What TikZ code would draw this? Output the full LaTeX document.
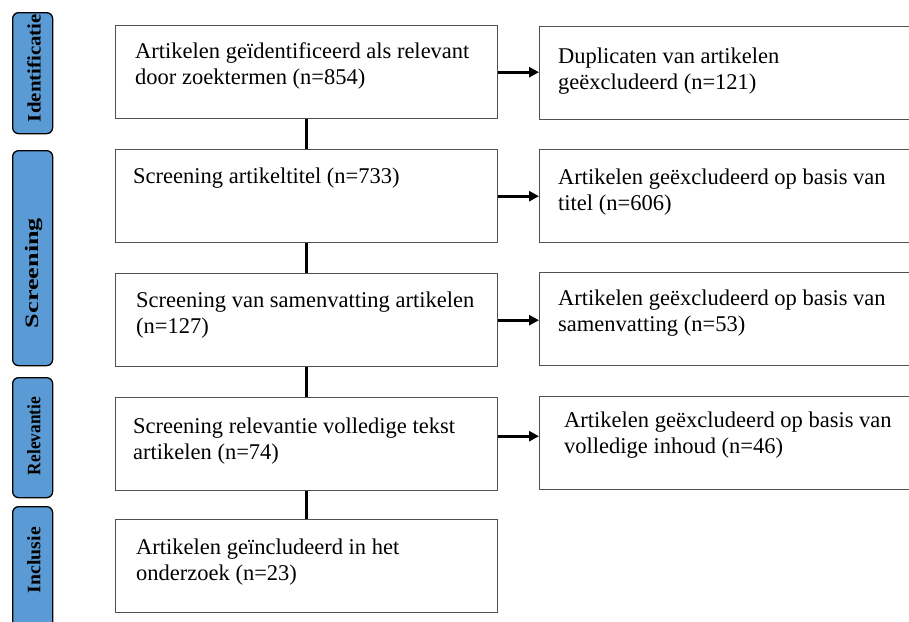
\documentclass[tikz,border=0pt]{standalone}
\usepackage{fontspec}
\setmainfont{Liberation Serif}
\usetikzlibrary{arrows.meta}
\definecolor{tabblue}{HTML}{5B9BD5}
\definecolor{boxline}{HTML}{505050}
\tikzset{
  mainbox/.style={draw=boxline, line width=1.4pt, fill=white, minimum width=382pt, minimum height=93pt, inner sep=0pt, anchor=north west},
  sidebox/.style={draw=boxline, line width=1.4pt, fill=white, minimum width=390pt, minimum height=93pt, inner sep=0pt, anchor=north west},
  tabbox/.style={draw=black, line width=1.3pt, fill=tabblue, rounded corners=6pt, inner sep=0pt, anchor=north west, minimum width=40pt},
  label/.style={anchor=base west, align=left, inner sep=0pt, font=\fontsize{22.5}{26}\selectfont},
  tablabel/.style={rotate=90, inner sep=0pt, font=\fontsize{19}{22}\selectfont\bfseries},
  link/.style={line width=3pt, black},
  arr/.style={line width=3pt, black, -{Triangle[length=10pt,width=10pt]}}
}
\begin{document}
\begin{tikzpicture}[x=1pt,y=-1pt]
\useasboundingbox (0,0) rectangle (909,621);
\clip (0,0) rectangle (909,621);
% side tabs
\node[tabbox, minimum height=121pt] (t1) at (12,12) {};
\node[tabbox, minimum height=215pt] (t2) at (12,150) {};
\node[tabbox, minimum height=120pt] (t3) at (12,377) {};
\node[tabbox, minimum height=140pt] (t4) at (12,506) {};
\node[tablabel] (l1) at (34,68) {\resizebox{108pt}{\height}{Identificatie}};
\node[tablabel] (l2) at (34,273) {\resizebox{110pt}{\height}{Screening}};
\node[tablabel] (l3) at (34,436) {\resizebox{78pt}{\height}{Relevantie}};
\node[tablabel] (l4) at (34,560) {\resizebox{66pt}{\height}{Inclusie}};
% main boxes
\node[mainbox] (b1) at (115,25) {};
\node[mainbox] (b2) at (115,149) {};
\node[mainbox] (b3) at (115,273) {};
\node[mainbox] (b4) at (115,397) {};
\node[mainbox] (b5) at (115,519) {};
% side boxes
\node[sidebox] (r1) at (539,26) {};
\node[sidebox] (r2) at (539,149) {};
\node[sidebox] (r3) at (539,272) {};
\node[sidebox] (r4) at (539,396) {};
% texts (base anchor of two-line labels sits on the second line)
\node[label] (x1) at (135,84) {Artikelen geïdentificeerd als relevant\\door zoektermen (n=854)};
\node[label] (x2) at (133,183) {Screening artikeltitel (n=733)};
\node[label] (x3) at (136,333) {Screening van samenvatting artikelen\\(n=127)};
\node[label] (x4) at (133,459) {Screening relevantie volledige tekst\\artikelen (n=74)};
\node[label] (x5) at (136,580) {Artikelen geïncludeerd in het\\onderzoek (n=23)};
\node[label] (y1) at (558,89) {Duplicaten van artikelen\\geëxcludeerd (n=121)};
\node[label] (y2) at (558,210) {Artikelen geëxcludeerd op basis van\\titel (n=606)};
\node[label] (y3) at (558,331) {Artikelen geëxcludeerd op basis van\\samenvatting (n=53)};
\node[label] (y4) at (564,453) {Artikelen geëxcludeerd op basis van\\volledige inhoud (n=46)};
% connectors
\draw[link] (b1.south) -- (b2.north);
\draw[link] (b2.south) -- (b3.north);
\draw[link] (b3.south) -- (b4.north);
\draw[link] (b4.south) -- (b5.north);
\draw[arr] (b1.east) -- (b1.east -| r1.west);
\draw[arr] (b2.east) -- (b2.east -| r2.west);
\draw[arr] (b3.east) -- (b3.east -| r3.west);
\draw[arr] ([yshift=8pt]b4.east) -- ([yshift=8pt]b4.east -| r4.west);
\end{tikzpicture}
\end{document}
